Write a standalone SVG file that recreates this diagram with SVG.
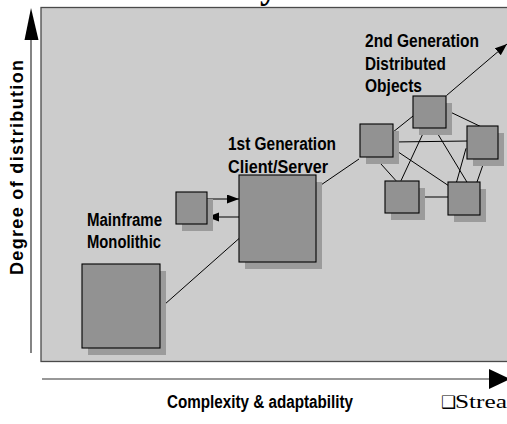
<svg xmlns="http://www.w3.org/2000/svg" width="507" height="424" viewBox="0 0 507 424">
<defs>
<style>
.bg{fill:#cccccc;stroke:#4a4a4a;stroke-width:1.3}
.box{fill:#929292;stroke:#000;stroke-width:1.1}
.sh{fill:#9b9b9b;stroke:none}
.ln{stroke:#000;stroke-width:1;fill:none}
.ax{stroke:#333;stroke-width:1.2;fill:none}
.lbl{font-family:"Liberation Sans",Arial,sans-serif;font-weight:bold;font-size:18px;fill:#000}
</style>
<marker id="ah" markerUnits="userSpaceOnUse" markerWidth="14" markerHeight="10" refX="12" refY="4.5" orient="auto">
<path d="M0,0 L12,4.5 L0,9 Z" fill="#000"/>
</marker>
</defs>
<rect width="507" height="424" fill="#ffffff"/>
<text x="260" y="-2" font-family="Liberation Serif,serif" font-weight="bold" font-size="36">y</text>
<rect class="bg" x="41" y="7.5" width="480" height="354"/>

<g id="axes">
<line class="ax" x1="31" y1="38" x2="31" y2="353"/>
<polygon points="31,8 38.5,40 24.5,40" fill="#000"/>
<line class="ax" x1="42" y1="379" x2="492" y2="379"/>
<polygon points="489,369 510,379 489,389" fill="#000"/>
</g>

<text class="lbl" font-size="16" transform="translate(23,275) rotate(-90)" textLength="215" lengthAdjust="spacing">Degree of distribution</text>
<text class="lbl" font-size="16" x="167" y="408" textLength="186" lengthAdjust="spacingAndGlyphs">Complexity &amp; adaptability</text>
<text x="441" y="408" font-family="DejaVu Sans,sans-serif" font-size="17" fill="#000">❑<tspan x="455" font-family="Liberation Serif,serif" font-size="19" textLength="52" lengthAdjust="spacingAndGlyphs">Strea</tspan></text>

<g id="connectors">
<line class="ln" x1="156" y1="312" x2="243" y2="235"/>
<line class="ln" x1="207" y1="199" x2="239" y2="199" marker-end="url(#ah)"/>
<line class="ln" x1="241" y1="217" x2="207" y2="217" marker-end="url(#ah)"/>
<line class="ln" x1="318" y1="187" x2="359" y2="159"/>
<line class="ln" x1="446.5" y1="95.5" x2="507" y2="44" marker-end="url(#ah)"/>
<line class="ln" x1="392.7" y1="132.3" x2="414.3" y2="115"/>
<line class="ln" x1="392.7" y1="142" x2="468.7" y2="141"/>
<line class="ln" x1="392.7" y1="148.3" x2="451" y2="187.3"/>
<line class="ln" x1="378.3" y1="161" x2="396" y2="180.7"/>
<line class="ln" x1="424.3" y1="130.7" x2="401" y2="180.7"/>
<line class="ln" x1="446" y1="110" x2="484.3" y2="128.3"/>
<line class="ln" x1="435" y1="129.3" x2="468.3" y2="184.3"/>
<line class="ln" x1="466" y1="148.3" x2="456" y2="184"/>
<line class="ln" x1="484.3" y1="161" x2="476.3" y2="184"/>
<line class="ln" x1="417.7" y1="197" x2="448.3" y2="197"/>
</g>

<g id="mainframe">
<rect class="sh" x="88" y="271" width="78" height="84"/>
<rect class="box" x="82" y="264" width="78" height="84"/>
<text class="lbl" x="87" y="225.5" textLength="75" lengthAdjust="spacingAndGlyphs">Mainframe</text>
<text class="lbl" x="87" y="247.5" textLength="74" lengthAdjust="spacingAndGlyphs">Monolithic</text>
</g>

<g id="client">
<rect class="sh" x="182" y="199" width="31" height="32"/>
<rect class="box" x="176" y="192" width="31" height="32"/>
</g>

<g id="server">
<rect class="sh" x="245" y="182" width="77" height="87"/>
<rect class="box" x="239" y="175" width="77" height="87"/>
<text class="lbl" x="228" y="150" textLength="108" lengthAdjust="spacingAndGlyphs">1st Generation</text>
<text class="lbl" x="228" y="172.5" textLength="100" lengthAdjust="spacingAndGlyphs">Client/Server</text>
</g>

<g id="obj-left">
<rect class="sh" x="366" y="131" width="33" height="33"/>
<rect class="box" x="360" y="124" width="33" height="33"/>
</g>
<g id="obj-top">
<rect class="sh" x="419" y="103" width="33" height="32"/>
<rect class="box" x="413" y="96" width="33" height="32"/>
</g>
<g id="obj-right">
<rect class="sh" x="473" y="133" width="31" height="33"/>
<rect class="box" x="467" y="126" width="31" height="33"/>
</g>
<g id="obj-bottom-left">
<rect class="sh" x="391" y="188" width="34" height="32"/>
<rect class="box" x="385" y="181" width="34" height="32"/>
</g>
<g id="obj-bottom-right">
<rect class="sh" x="454" y="189" width="32" height="33"/>
<rect class="box" x="448" y="182" width="32" height="33"/>
</g>

<g id="label-2nd">
<text class="lbl" x="365" y="47" textLength="114" lengthAdjust="spacingAndGlyphs">2nd Generation</text>
<text class="lbl" x="365" y="69.5" textLength="81" lengthAdjust="spacingAndGlyphs">Distributed</text>
<text class="lbl" x="365" y="91.5" textLength="57" lengthAdjust="spacingAndGlyphs">Objects</text>
</g>
</svg>
